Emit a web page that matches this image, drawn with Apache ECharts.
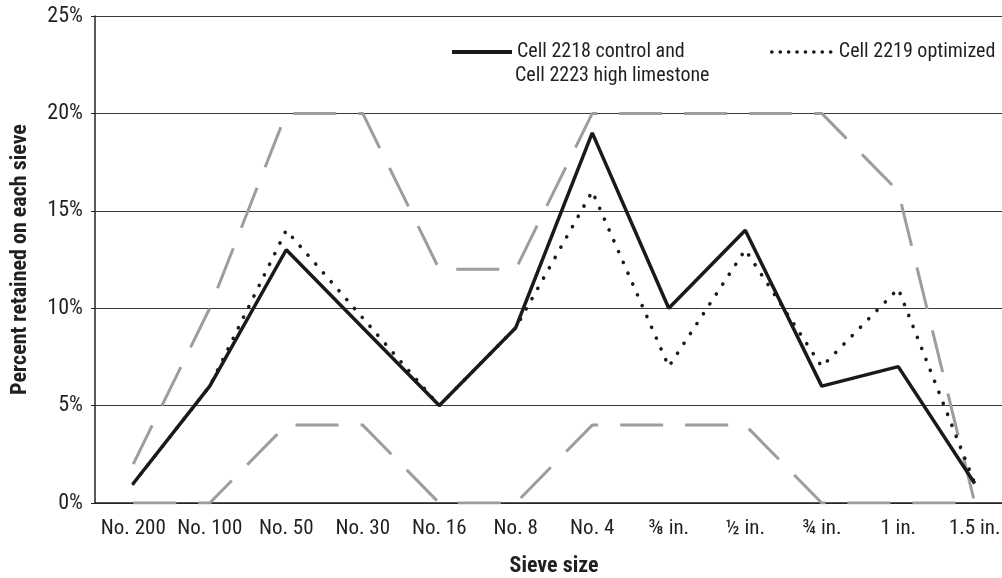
<!DOCTYPE html>
<html>
<head>
<meta charset="utf-8">
<script src="https://cdn.jsdelivr.net/npm/echarts@6/dist/echarts.min.js"></script>
<style>
html,body{margin:0;padding:0;background:#fff;}
#chart{width:1002px;height:578px;}
</style>
</head>
<body>
<div id="chart"></div>
<script>
var categories = ['No. 200','No. 100','No. 50','No. 30','No. 16','No. 8','No. 4','⅜ in.','½ in.','¾ in.','1 in.','1.5 in.'];
var controlName = 'Cell 2218 control and\nCell 2223 high limestone';
var optimizedName = 'Cell 2219 optimized';
var controlValues = [1, 6, 13, 9, 5, 9, 19, 10, 14, 6, 7, 1];
var optimizedValues = [1, 6, 14, 9.5, 5, 9, 16, 7, 13, 7, 11, 1];
var upperLimit = [2, 10, 20, 20, 12, 12, 20, 20, 20, 20, 16, 0];
var lowerLimit = [0, 0, 4, 4, 0, 0, 4, 4, 4, 0, 0, 0];
var yTicks = [0, 5, 10, 15, 20, 25];

var FONT = "'Roboto Condensed','Liberation Sans Narrow','DejaVu Sans Condensed',sans-serif";
var INK = '#231f20';
var chart = echarts.init(document.getElementById('chart'), null, {renderer:'canvas'});
var limitStyle = {color:'#9d9d9d', width:3, type:[43,22], cap:'butt'};
var hiddenSymbol = {color:'rgba(0,0,0,0)', borderWidth:0, opacity:0};
chart.setOption({
  animation:false,
  backgroundColor:'#ffffff',
  textStyle:{fontFamily:FONT},
  grid:{left:95, top:16, width:918, height:487, containLabel:false, outerBoundsMode:'none'},
  legend:[
    {left:450, top:42, padding:0, itemWidth:60, itemHeight:20, data:[controlName],
     formatter:function(n){return n.split('\n')[0];}, itemStyle:hiddenSymbol,
     lineStyle:{width:4},
     textStyle:{fontFamily:FONT, fontSize:20, color:INK}, selectedMode:false},
    {left:770, top:42, padding:0, itemWidth:62, itemHeight:20, data:[optimizedName], itemStyle:hiddenSymbol,
     lineStyle:{width:3.6, type:[0.1,8.3], cap:'round'},
     textStyle:{fontFamily:FONT, fontSize:20, color:INK}, selectedMode:false}
  ],
  graphic:[{type:'text', left:515, top:66, style:{text:controlName.split('\n')[1], font:"20px 'Roboto Condensed', sans-serif", fill:INK}}],
  xAxis:{
    type:'category', data:categories, boundaryGap:true,
    name:'Sieve size', nameLocation:'middle', nameGap:52,
    nameTextStyle:{fontFamily:FONT, fontSize:22, fontWeight:'bold', color:INK},
    axisLine:{lineStyle:{color:INK, width:1.5}},
    axisTick:{show:false},
    axisLabel:{fontFamily:FONT, fontSize:21, color:INK, margin:15, interval:0},
    splitLine:{show:false}
  },
  yAxis:{
    type:'value', min:0, max:25, interval:5,
    name:'Percent retained on each sieve', nameLocation:'middle', nameGap:64,
    nameTextStyle:{fontFamily:FONT, fontSize:22, fontWeight:'bold', color:INK},
    axisLine:{show:true, lineStyle:{color:INK, width:1.5}},
    axisTick:{show:true, length:4, lineStyle:{color:INK}},
    axisLabel:{fontFamily:FONT, fontSize:22, color:INK, margin:12,
      formatter:function(v){return yTicks.indexOf(v)>=0 ? v+'%' : '';}},
    splitLine:{show:true, lineStyle:{color:'#3a3a3a', width:1}}
  },
  series:[
    {name:'upper', type:'line', data:upperLimit, symbol:'none', lineStyle:limitStyle, z:2, silent:true},
    {name:'lower', type:'line', data:lowerLimit, symbol:'none', lineStyle:limitStyle, z:2, silent:true},
    {name:controlName, type:'line', data:controlValues, symbol:'none',
     lineStyle:{color:'#1a1a1a', width:3.5, type:'solid'}, itemStyle:{color:'#1a1a1a'}, z:3},
    {name:optimizedName, type:'line', data:optimizedValues, symbol:'none',
     lineStyle:{color:'#1a1a1a', width:3.6, type:[0.1,11.7], cap:'round'}, itemStyle:{color:'#1a1a1a'}, z:4}
  ]
});
</script>
</body>
</html>
